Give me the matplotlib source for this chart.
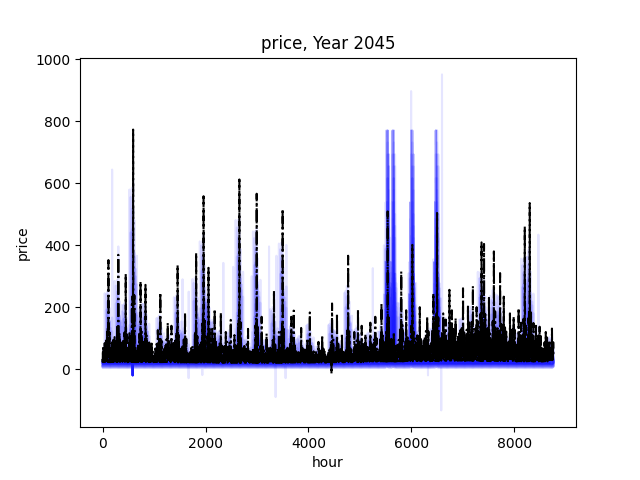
import numpy as np
import matplotlib
matplotlib.use("Agg")
import matplotlib.pyplot as plt

# ---------------- data ----------------
N_HOURS = 8760
# relative shape of a typical day (hour 0..23), 1.0 = evening peak
DAILY_SHAPE = [0.20, 0.12, 0.06, 0.02, 0.05, 0.18, 0.45, 0.70, 0.62, 0.45, 0.32, 0.25,
               0.20, 0.18, 0.22, 0.32, 0.50, 0.78, 1.00, 0.95, 0.80, 0.60, 0.42, 0.30]
# day-of-week factor on the daily peak
DOW_FACTOR = [0.95, 1.05, 1.15, 1.0, 1.1, 0.75, 0.6]
# monthly floor of the black (reference) price
BLACK_FLOOR = [22, 22, 21, 20, 20, 21, 22, 24, 25, 26, 25, 24]
# typical daily-peak level of the black price per week
WEEK_PEAK = [80, 90, 85, 95, 80, 75, 70, 75, 80, 70, 65, 75,
             70, 65, 70, 60, 65, 60, 55, 60, 55, 60, 50, 55,
             50, 55, 60, 55, 60, 65, 70, 75, 80, 85, 90, 85,
             95, 100, 110, 105, 115, 110, 120, 125, 115, 120, 110, 105,
             100, 95, 90, 85, 80]
# black price spikes: hour, peak price
BLACK_SPIKE_HOUR = [97, 305, 433, 596, 738, 835, 1126, 1451, 1598, 1806, 1948, 2045,
                    2181, 2297, 2472, 2661, 2991, 3088, 3327, 3502, 3651, 3715, 3845, 4026,
                    4189, 4461, 4558, 4655, 4772, 4958, 5107, 5282, 5418, 5541, 5651, 5787,
                    6014, 6428, 6486, 6725, 6855, 6985, 7082, 7179, 7360, 7405, 7587, 7710,
                    7793, 8065, 8201, 8298, 8364, 8492, 8714,
                    213, 525, 1070, 1250, 1330, 2120, 2380, 2560, 2820, 3190, 3420, 3980,
                    4250, 4880, 5030, 5200, 5900, 6150, 6300, 6600, 6650, 6780, 7250, 7500,
                    7900, 7990, 8130, 8420, 8600]
BLACK_SPIKE_PEAK = [352, 369, 307, 773, 283, 272, 247, 336, 182, 375, 558, 327,
                    194, 182, 159, 612, 566, 169, 253, 517, 169, 189, 133, 183,
                    88, 212, 180, 116, 366, 193, 113, 169, 212, 509, 120, 315,
                    401, 245, 504, 256, 165, 261, 202, 268, 409, 404, 380, 310,
                    234, 197, 460, 536, 149, 137, 131,
                    94, 116, 126, 150, 140, 130, 120, 110, 130, 115, 120, 100,
                    110, 120, 140, 150, 190, 200, 170, 180, 160, 190, 200, 230,
                    180, 170, 150, 140, 120]
BLACK_DIP_HOUR = [4447]
BLACK_DIP_VALUE = [-15]

# ensemble members (blue)
MEMBER_FLOOR = [6, 16, 12, 19, 4, 18, 10, 16, 8, 17, 13, 20, 3, 18, 14, 7, 11, 17, 20, 9]
MEMBER_LEVEL = [0.15, 0.25, 0.35, 0.20, 0.45, 0.30, 0.10, 0.40, 0.22, 0.28,
                0.33, 0.18, 0.50, 0.26, 0.38, 0.12, 0.30, 0.24, 0.42, 0.20]
MEMBER_SPIKE = [0.30, 0.50, 0.70, 0.40, 0.85, 0.60, 0.20, 0.75, 0.45, 0.55,
                0.65, 0.35, 0.80, 0.50, 0.70, 0.25, 0.60, 0.48, 0.78, 0.38]
MEMBER_SHIFT_DAYS = [-2, 1, -1, 2, 0, -1, 1, -2, 2, 0, 1, -1, -3, 3, 0, 2, -2, 1, -1, 3]
# common price-cap spikes of the ensemble
CAP_SPIKE_HOUR = [5541, 5651, 6014, 6486]
CAP_PRICE = 770
MEMBER_CAP = [1.0, 0.8, 1.0, 0.75, 0.9, 1.0, 0.85, 0.6, 1.0, 0.95,
              1.0, 0.85, 0.7, 1.0, 0.9, 0.55, 1.0, 0.8, 0.65, 0.9]
MEMBER_CAP_SHIFT_H = [-20, -10, 0, 10, 20, -15, 5, 15, -5, 0,
                      -25, 25, 0, -10, 10, 30, -30, 0, 20, -20]
# single-member spikes: member, hour, peak
SOLO_MEMBER = [3, 7, 11, 2, 5, 9, 14, 8, 16, 1, 6, 10, 17, 0, 19]
SOLO_HOUR = [169, 311, 1670, 2344, 3224, 3360, 3554, 5238, 5996, 6091, 6577, 8454, 2530, 1550, 2880]
SOLO_PEAK = [644, 396, 250, 343, 396, 366, 401, 326, 897, 278, 951, 434, 330, 290, 300]
# single-member dips: member, hour, value
DIP_MEMBER = [11, 4, 9, 14, 6, 2]
DIP_HOUR = [1670, 1936, 3360, 3554, 6577, 6320]
DIP_VALUE = [-29, -19, -90, -29, -133, -20]
COMMON_DIP_HOUR = [583]
COMMON_DIP_VALUE = [-20]

# ---------------- build hourly series ----------------
hours = np.arange(N_HOURS)
hod = hours % 24
day = hours // 24
dow = day % 7
week = np.minimum(hours // 168, len(WEEK_PEAK) - 1)
month = np.minimum(hours * 12 // N_HOURS, 11)
shape = np.array(DAILY_SHAPE)[hod]
sharp = shape ** 4

floor = np.array(BLACK_FLOOR, dtype=float)[month]
level = np.array(WEEK_PEAK, dtype=float)[week] * np.array(DOW_FACTOR)[dow]
base_part = (level - floor) * shape

spike_part = np.zeros(N_HOURS)
DAY_SPREAD = [0.15, 1.0, 0.2]
for h, p in zip(BLACK_SPIKE_HOUR, BLACK_SPIKE_PEAK):
    c = h // 24
    for off, f in zip((-1, 0, 1), DAY_SPREAD):
        m = day == c + off
        spike_part[m] = np.maximum(spike_part[m], (p - level[m]) * f * sharp[m])

black = floor + base_part + spike_part
for h, v in zip(BLACK_DIP_HOUR, BLACK_DIP_VALUE):
    black[h] = v

members = []
for k in range(len(MEMBER_FLOOR)):
    own_spikes = np.roll(spike_part, 24 * MEMBER_SHIFT_DAYS[k]) * MEMBER_SPIKE[k]
    s = MEMBER_FLOOR[k] + base_part * MEMBER_LEVEL[k] + own_spikes
    for h in CAP_SPIKE_HOUR:
        c = (h + MEMBER_CAP_SHIFT_H[k]) // 24
        for off, f in zip((-1, 0, 1), [0.45, 1.0, 0.4]):
            m = day == c + off
            s[m] = np.maximum(s[m], (CAP_PRICE * MEMBER_CAP[k]) * f * shape[m])
    for mem, h, p in zip(SOLO_MEMBER, SOLO_HOUR, SOLO_PEAK):
        if mem == k:
            m = day == h // 24
            s[m] = np.maximum(s[m], p * sharp[m])
    for mem, h, v in zip(DIP_MEMBER, DIP_HOUR, DIP_VALUE):
        if mem == k:
            s[h:h + 3] = v
    for h, v in zip(COMMON_DIP_HOUR, COMMON_DIP_VALUE):
        s[h:h + 3] = v
    members.append(s)

# ---------------- plot ----------------
fig, ax = plt.subplots(figsize=(6.4, 4.8), dpi=100)
for s in members:
    ax.plot(hours, s, color="blue", alpha=0.1)
ax.plot(hours, black, color="black", linestyle="-.")
ax.set_title("price, Year 2045")
ax.set_xlabel("hour")
ax.set_ylabel("price")
fig.savefig("out.png")
